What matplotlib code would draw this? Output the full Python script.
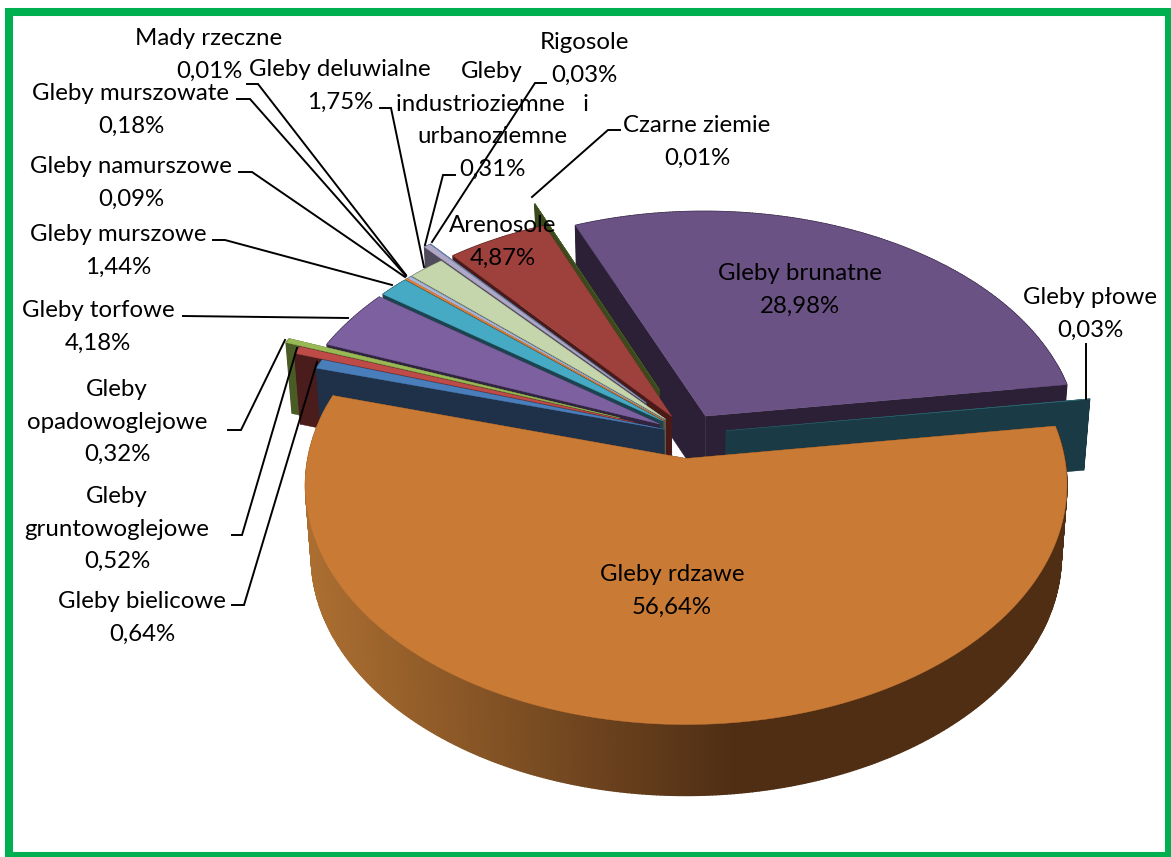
import numpy as np
import matplotlib
matplotlib.use("Agg")
import matplotlib.pyplot as plt
from matplotlib.colors import to_rgb
from matplotlib.patches import Rectangle

names = ["Gleby rdzawe", "Gleby bielicowe", "Gleby\ngruntowoglejowe", "Gleby\nopadowoglejowe",
         "Gleby torfowe", "Gleby murszowe", "Gleby namurszowe", "Gleby murszowate",
         "Mady rzeczne", "Gleby deluwialne", "Gleby\nindustrioziemne   i\nurbanoziemne", "Rigosole",
         "Arenosole", "Czarne ziemie", "Gleby brunatne", "Gleby płowe"]
values = [56.64, 0.64, 0.52, 0.32, 4.18, 1.44, 0.09, 0.18, 0.01, 1.75, 0.31, 0.03, 4.87, 0.01, 28.98, 0.03]

top_colors = ["#C97A35", "#4A7EBB", "#BE4B48", "#98B954", "#7D60A0", "#46AAC5", "#E8843A", "#A9B8D8",
              "#8FA8D0", "#C6D6AC", "#AFA7C6", "#5B8BC0", "#9E403C", "#4A5F22", "#6B5285", "#2D6A76"]
wall_colors = ["#4F2E14", "#1E3148", "#4A1C1B", "#4A5C26", "#30243F", "#1B4350", "#7A4A20", "#55607A",
               "#4A5A70", "#5A6050", "#4F4A5C", "#2C4A68", "#4A1A18", "#3A4A1C", "#2B2036", "#1A3B45"]
explode = [0.105, 0.07, 0.155, 0.20, 0.09, 0.09, 0.09, 0.09, 0.09, 0.09, 0.18, 0.18, 0.09, 0.21, 0.09, 0.10]

# gdzie stoja etykiety (px) i linie odniesienia
label_xy = [(672, 574.5), (142, 601.5), (117, 496.5), (117, 389.5), (98, 310.5), (118, 234.5), (131, 166.5), (131, 93.5),
            (209, 38.5), (340, 69.5), (492, 71.5), (584, 42.5), (503, 225.5), (697, 125.5), (800, 273.5), (1090, 297.5)]
leaders = {
    1: [(232, 605), (244, 605), (317, 362)],
    2: [(232, 535), (242, 535), (297, 348)],
    3: [(228, 430), (241, 430), (285, 340)],
    4: [(183, 316), (348, 318)],
    5: [(213, 240), (225, 240), (392, 285)],
    6: [(239, 172), (252, 172), (405, 277)],
    7: [(237, 99), (250, 99), (406, 276)],
    8: [(247, 84), (258, 84), (406, 275)],
    9: [(380, 108), (391, 108), (424, 267)],
    10: [(455, 175), (443, 175), (425, 245)],
    11: [(546, 83), (535, 83), (432, 242)],
    13: [(620, 130), (608, 130), (532, 197)],
    15: [(1086, 344), (1086, 399)],
}

# rzut dysku na obraz
CX, CY = 689, 434
A, B, P = 374, 231, 0.11
DEPTH = 71
START = 8.0
LINE_H = 32.5


def project(X, Y, bottom=False):
    den = 1 + P * Y
    u = A * X / den
    v = B * Y / den
    if bottom:
        return CX + 0.985 * u, CY - v + DEPTH
    return CX + u, CY - v


def draw_slice(ax, t0, t1, ex, top, wall, gradient=False):
    mid = np.radians((t0 + t1) / 2)
    ox, oy = ex * np.cos(mid), ex * np.sin(mid)
    t = np.radians(np.linspace(t0, t1, max(int(abs(t1 - t0) * 2), 2)))
    X = ox + np.cos(t)
    Y = oy + np.sin(t)

    # sciany promieniowe
    for i in (0, -1):
        a = project(np.array([ox, X[i]]), np.array([oy, Y[i]]))
        b = project(np.array([X[i], ox]), np.array([Y[i], oy]), bottom=True)
        ax.fill(np.r_[a[0], b[0]], np.r_[a[1], b[1]], color=wall, lw=0.3)

    # sciana zewnetrzna
    ua, va = project(X, Y)
    ub, vb = project(X, Y, bottom=True)
    for i in range(len(t) - 1):
        c = wall
        if gradient:
            # jasniej po lewej stronie
            k = np.clip((ua[i] - 310) / 425, 0, 1)
            c = tuple((1 - k) * np.array(to_rgb("#AB6E31")) + k * np.array(to_rgb("#4F2E14")))
        ax.fill([ua[i], ua[i + 1], ub[i + 1], ub[i]], [va[i], va[i + 1], vb[i + 1], vb[i]], color=c, lw=1.0)

    # wierzch
    ou, ov = project(np.array([ox]), np.array([oy]))
    ax.fill(np.r_[ou, ua], np.r_[ov, va], color=top, lw=0.3)


fig = plt.figure(figsize=(11.71, 8.57), dpi=100)
ax = fig.add_axes([0, 0, 1, 1])
ax.set_xlim(0, 1171)
ax.set_ylim(857, 0)
ax.axis("off")

cum = np.r_[0, np.cumsum(values)] / sum(values)
angles = START - 360 * cum
order = [14, 15, 13, 12, 11, 10, 9, 8, 7, 6, 5, 4, 3, 2, 1, 0]
for i in order:
    draw_slice(ax, angles[i], angles[i + 1], explode[i], top_colors[i], wall_colors[i], gradient=(i == 0))

for pts in leaders.values():
    xs, ys = zip(*pts)
    ax.plot(xs, ys, color="black", lw=1.4, solid_joinstyle="miter")

for name, val, (x, y) in zip(names, values, label_xy):
    lines = name.split("\n") + [f"{val:.2f}%".replace(".", ",")]
    for k, line in enumerate(lines):
        ax.text(x, y + k * LINE_H, line, family="Lato", fontsize=17.3, color="black", ha="center", va="center")

ax.add_patch(Rectangle((9, 12), 1160, 844, fill=False, ec="#00B050", lw=5.8, joinstyle="miter"))

fig.savefig("out.png", dpi=100)
plt.close(fig)
